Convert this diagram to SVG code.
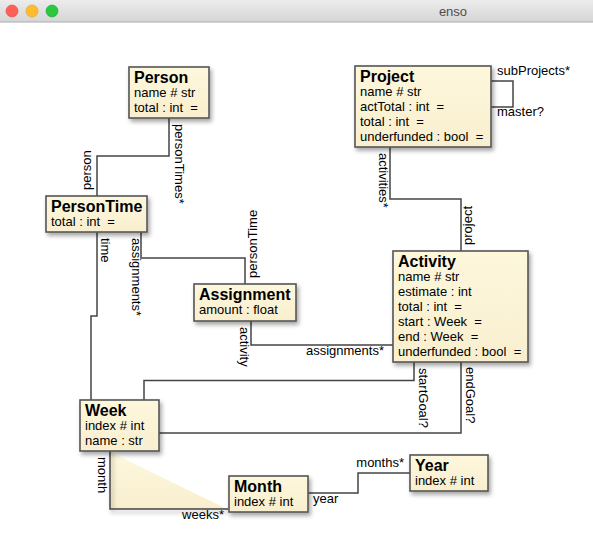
<svg xmlns="http://www.w3.org/2000/svg" width="593" height="541" viewBox="0 0 593 541">
<defs>
<linearGradient id="bar" x1="0" y1="0" x2="0" y2="1">
<stop offset="0" stop-color="#ececec"/>
<stop offset="1" stop-color="#d5d5d5"/>
</linearGradient>
<linearGradient id="cream" x1="0" y1="0" x2="0" y2="1">
<stop offset="0" stop-color="#fdf7dc"/>
<stop offset="1" stop-color="#f9efcf"/>
</linearGradient>
<filter id="sh" x="-20%" y="-20%" width="150%" height="160%">
<feDropShadow dx="2" dy="3" stdDeviation="2" flood-color="#000" flood-opacity="0.35"/>
</filter>
<style>
.box{fill:url(#cream);stroke:#555;stroke-width:1.6;filter:url(#sh)}
.t{font-family:"Liberation Sans",Arial,sans-serif;font-size:16px;font-weight:bold;fill:#000}
.a{font-family:"Liberation Sans",Arial,sans-serif;font-size:13px;fill:#000;white-space:pre}
.l{font-family:"Liberation Sans",Arial,sans-serif;font-size:13px;fill:#000}
.c{fill:none;stroke:#444;stroke-width:1.5}
</style>
</defs>
<rect x="0" y="0" width="593" height="541" fill="#fff"/>
<g id="titlebar">
<rect x="0" y="0" width="593" height="22" fill="url(#bar)"/>
<line x1="0" y1="22" x2="593" y2="22" stroke="#acacac" stroke-width="1"/>
<circle cx="12" cy="11" r="6" fill="#fe5f57" stroke="#e2463f" stroke-width="0.6"/>
<circle cx="32" cy="11" r="6" fill="#febc2e" stroke="#dea123" stroke-width="0.6"/>
<circle cx="52" cy="11" r="6" fill="#28c840" stroke="#1aab29" stroke-width="0.6"/>
<text x="453" y="15.5" text-anchor="middle" font-family="'Liberation Sans',Arial,sans-serif" font-size="13" fill="#4d4d4d">enso</text>
</g>
<g id="connectors">
<polygon points="110,452 110,509 227,509" fill="url(#cream)"/>
<path class="c" d="M110 451 V509 H228" filter="url(#sh)"/>
<path class="c" d="M169 118 V156 H97 V196"/>
<path class="c" d="M141 232 V258 H245 V284"/>
<path class="c" d="M97 232 V316 H91 V400"/>
<path class="c" d="M251 321 V345 H393"/>
<path class="c" d="M390 147 V199 H461 V251"/>
<path class="c" d="M414 362 V380.5 H144 V400"/>
<path class="c" d="M461 362 V433 H159"/>
<path class="c" d="M308 493 H358 V473 H410"/>
<path class="c" d="M491 81 H513 V107 H491"/>
<text class="l" transform="translate(175,124) rotate(90)">personTimes*</text>
<text class="l" transform="translate(91,190) rotate(-90)">person</text>
<text class="l" transform="translate(101,238) rotate(90)">time</text>
<text class="l" transform="translate(131.5,238) rotate(90)">assignments*</text>
<text class="l" transform="translate(256.5,278) rotate(-90)">personTime</text>
<text class="l" transform="translate(239.5,327) rotate(90)">activity</text>
<text class="l" x="384" y="355" text-anchor="end">assignments*</text>
<text class="l" transform="translate(378.5,153) rotate(90)">activities*</text>
<text class="l" transform="translate(472,245) rotate(-90)">project</text>
<text class="l" transform="translate(419,368) rotate(90)">startGoal?</text>
<text class="l" transform="translate(466,367) rotate(90)">endGoal?</text>
<text class="l" transform="translate(98,457) rotate(90)">month</text>
<text class="l" x="224" y="519" text-anchor="end">weeks*</text>
<text class="l" x="313" y="502.5">year</text>
<text class="l" x="404" y="467" text-anchor="end">months*</text>
<text class="l" x="497" y="75">subProjects*</text>
<text class="l" x="497" y="116">master?</text>
</g>
<g id="Person">
<rect class="box" x="129" y="67" width="80" height="51"/>
<text class="t" x="134" y="83">Person</text>
<text class="a" x="134" y="97">name # str</text>
<text class="a" x="134" y="112">total : int  =</text>
</g>
<g id="PersonTime">
<rect class="box" x="46" y="196" width="101" height="36"/>
<text class="t" x="51" y="212">PersonTime</text>
<text class="a" x="51" y="226">total : int  =</text>
</g>
<g id="Assignment">
<rect class="box" x="194" y="284" width="102" height="37"/>
<text class="t" x="199" y="300">Assignment</text>
<text class="a" x="199" y="314">amount : float</text>
</g>
<g id="Project">
<rect class="box" x="355" y="66" width="136" height="81"/>
<text class="t" x="360" y="82">Project</text>
<text class="a" x="360" y="96">name # str</text>
<text class="a" x="360" y="111">actTotal : int  =</text>
<text class="a" x="360" y="126">total : int  =</text>
<text class="a" x="360" y="141">underfunded : bool  =</text>
</g>
<g id="Activity">
<rect class="box" x="393" y="251" width="135" height="111"/>
<text class="t" x="398" y="267">Activity</text>
<text class="a" x="398" y="281">name # str</text>
<text class="a" x="398" y="296">estimate : int</text>
<text class="a" x="398" y="311">total : int  =</text>
<text class="a" x="398" y="326">start : Week  =</text>
<text class="a" x="398" y="341">end : Week  =</text>
<text class="a" x="398" y="356">underfunded : bool  =</text>
</g>
<g id="Week">
<rect class="box" x="80" y="400" width="79" height="51"/>
<text class="t" x="85" y="416">Week</text>
<text class="a" x="85" y="430">index # int</text>
<text class="a" x="85" y="445">name : str</text>
</g>
<g id="Month">
<rect class="box" x="229" y="476" width="79" height="36"/>
<text class="t" x="234" y="492">Month</text>
<text class="a" x="234" y="506">index # int</text>
</g>
<g id="Year">
<rect class="box" x="410" y="455" width="78" height="36"/>
<text class="t" x="415" y="471">Year</text>
<text class="a" x="415" y="485">index # int</text>
</g>
</svg>
